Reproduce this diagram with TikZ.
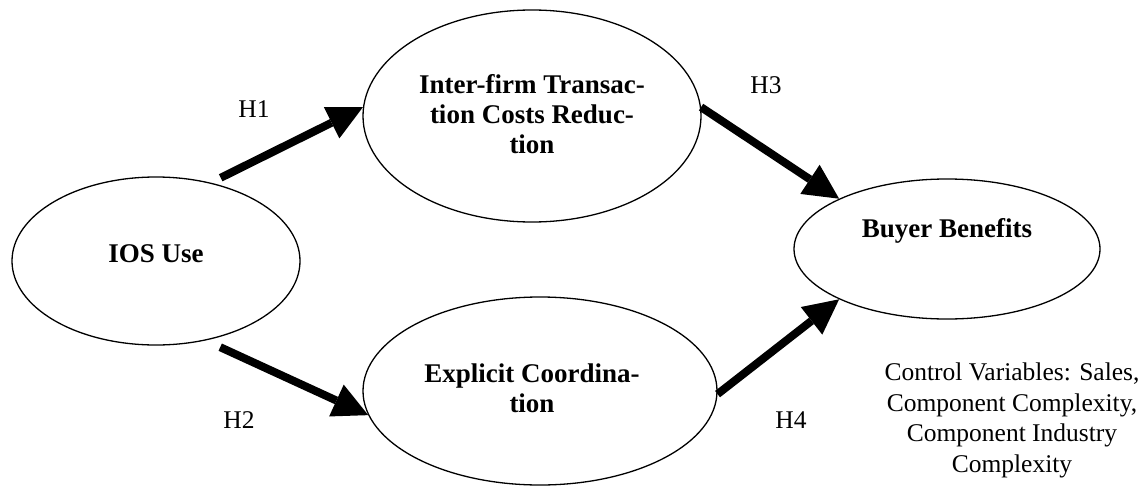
\documentclass[tikz,border=0pt]{standalone}
\usepackage{fontspec}
\setmainfont{Liberation Serif}
\usetikzlibrary{shapes.geometric,arrows.meta}

\begin{document}
\begin{tikzpicture}[x=1pt,y=-1pt,
    oval/.style={draw,ellipse,line width=1.3pt,inner sep=0pt},
    title/.style={font=\fontsize{27}{30}\selectfont\bfseries,align=center,inner sep=0pt,anchor=base},
    note/.style={font=\fontsize{25.5}{30.5}\selectfont,align=center,inner sep=0pt,anchor=base},
    link/.style={line width=8pt,-{Triangle[length=35pt,width=35pt,line width=0pt]}}]
    \useasboundingbox (0,0) rectangle (1147,487);
    % constructs
    \node[oval,minimum width=288pt,minimum height=168pt] (ios) at (156,261) {};
    \node[oval,minimum width=338pt,minimum height=212pt] (itc) at (532,116) {};
    \node[oval,minimum width=354pt,minimum height=188pt] (exc) at (540,391) {};
    \node[oval,minimum width=306pt,minimum height=140pt] (bb) at (947,249) {};
    % base = last line
    \node[title] (ios-t) at (156,262) {IOS Use};
    \node[title] (itc-t) at (532,153) {Inter-firm Transac-\\tion Costs Reduc-\\tion};
    \node[title] (exc-t) at (532,412) {Explicit Coordina-\\tion};
    \node[title] (bb-t) at (947,237) {Buyer Benefits};
    % hypotheses
    \draw[link,shorten <=11pt] (ios.55) -- (itc.177);
    \draw[link,shorten <=16pt] (ios.-58) -- (exc.188);
    \draw[link] (itc.3) -- (bb.155);
    \draw[link] (exc.-1) -- (bb.205);
    \node[note] (h1) at (254,117) {H1};
    \node[note] (h2) at (239,428) {H2};
    \node[note] (h3) at (766,93) {H3};
    \node[note] (h4) at (791,428) {H4};
    \node[note] (ctrl) at (1012,472) {Control Variables: Sales,\\Component Complexity,\\Component Industry\\Complexity};
\end{tikzpicture}
\end{document}
